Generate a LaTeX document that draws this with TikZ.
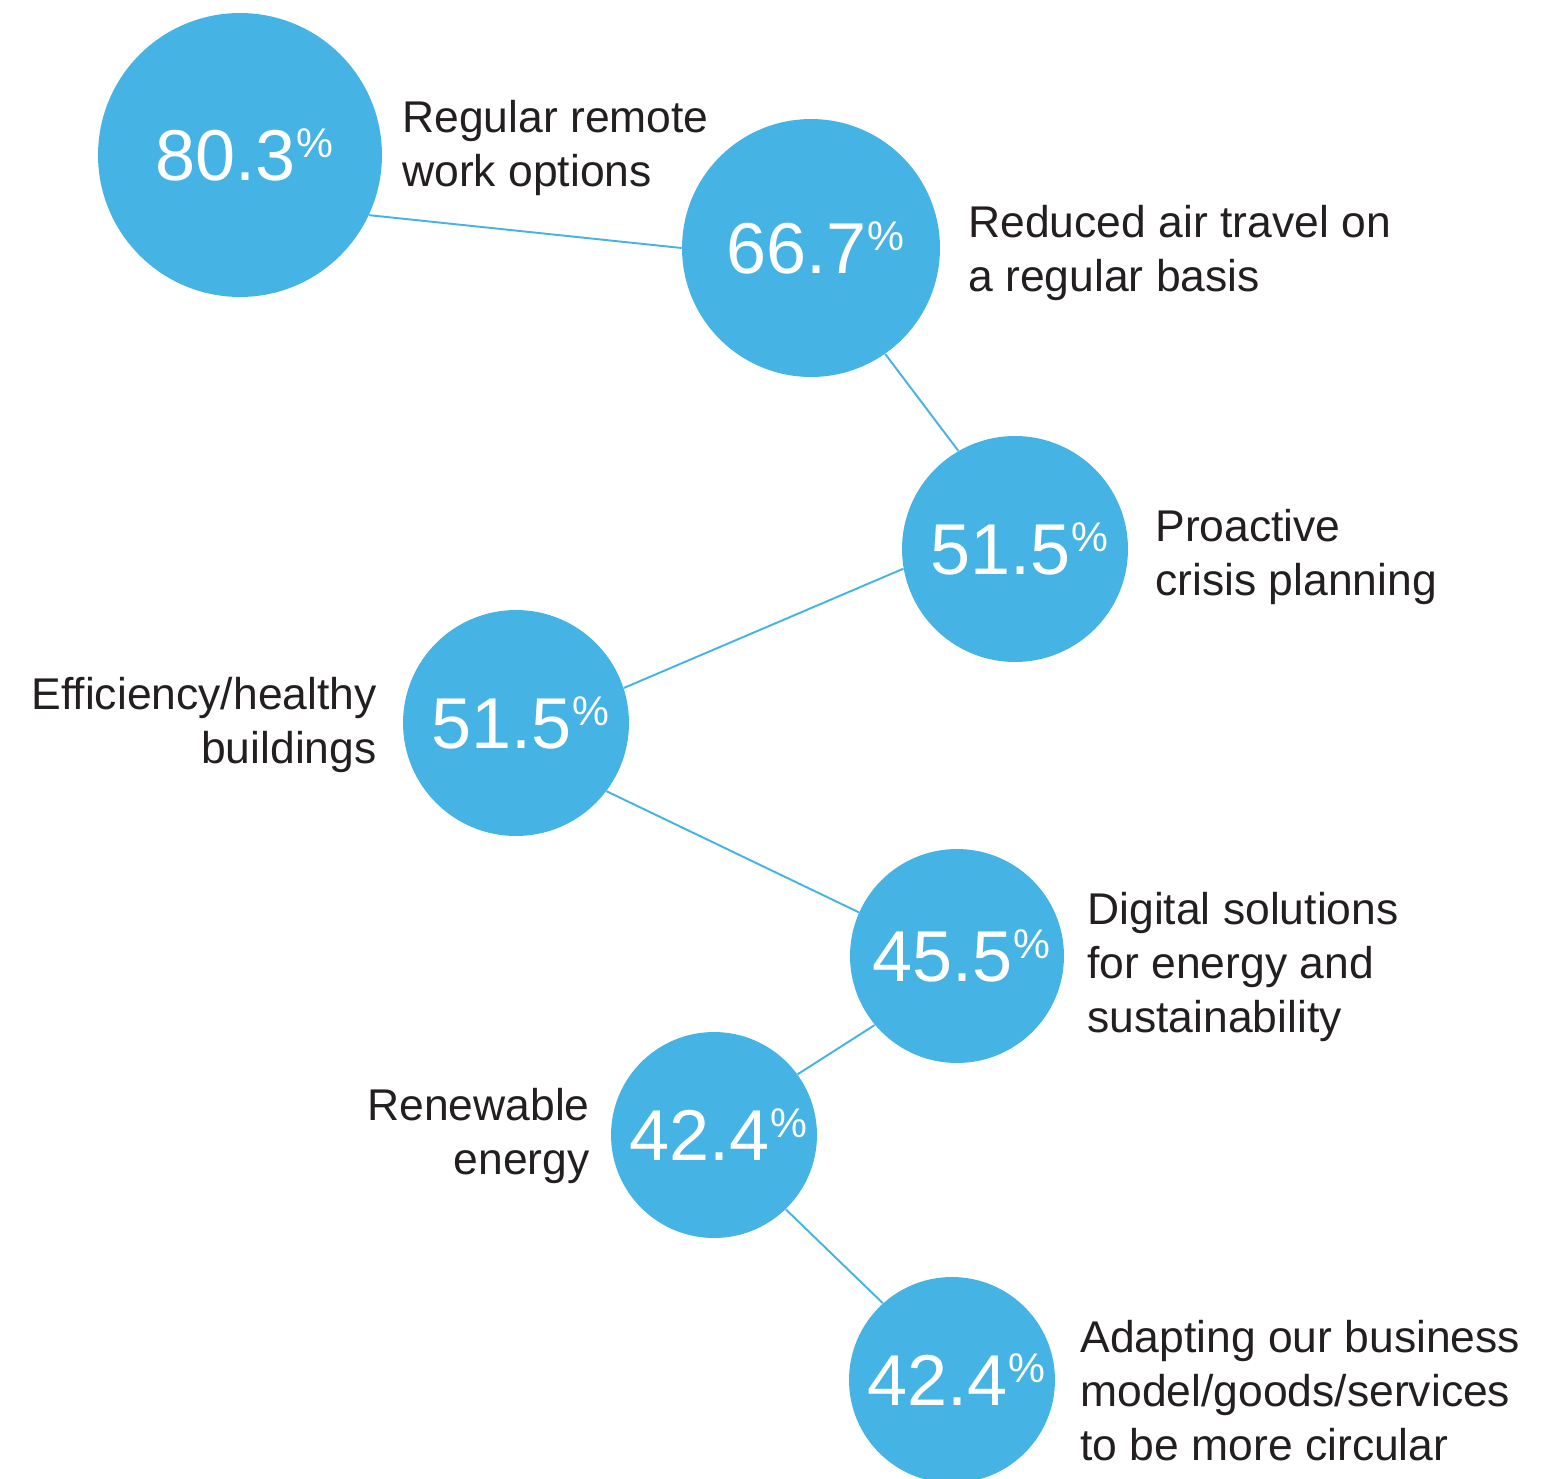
\documentclass[tikz,border=0pt]{standalone}
\usepackage{fontspec}
\setmainfont{Liberation Sans}
\usepackage{xcolor}
\usetikzlibrary{shapes.geometric}
\definecolor{bubbleblue}{HTML}{45B4E5}
\definecolor{labelgray}{HTML}{231F20}
\newcommand{\pct}[1]{\kern5pt#1\raisebox{13pt}{\fontsize{23.6}{24}\selectfont\%}}

\begin{document}
\begin{tikzpicture}[x=0.02cm,y=-0.02cm]
\tikzstyle{bubble} = [circle, fill=bubbleblue, text=white, inner sep=0pt,
font=\fontsize{41}{41}\selectfont]
\tikzstyle{lbl} = [anchor=north west, align=left, inner sep=0pt, text=labelgray,
font=\fontsize{25.3}{30.6}\selectfont]
\tikzstyle{lbl_r} = [lbl, anchor=north east, align=right]
\tikzstyle{link} = [draw=bubbleblue, line width=1.1pt];
\useasboundingbox (0,0) rectangle (1542,1478);
% circles
\node [bubble, minimum size=5.68cm] (remote) at (240,155) {\pct{80.3}};
\node [bubble, minimum size=5.16cm] (air) at (811,248) {\pct{66.7}};
\node [bubble, minimum size=4.52cm] (crisis) at (1015,549) {\pct{51.5}};
\node [bubble, minimum size=4.52cm] (buildings) at (516,723) {\pct{51.5}};
\node [bubble, minimum size=4.28cm] (digital) at (957,956) {\pct{45.5}};
\node [bubble, minimum size=4.12cm] (renew) at (714,1135) {\pct{42.4}};
\node [bubble, minimum size=4.12cm] (circular) at (952,1380) {\pct{42.4}};
% labels
\node [lbl] (remote_txt) at (402,100) {Regular remote\\work options};
\node [lbl] (air_txt) at (968,205) {Reduced air travel on\\a regular basis};
\node [lbl] (crisis_txt) at (1155,509) {Proactive\\crisis planning};
\node [lbl_r] (buildings_txt) at (377,677) {Efficiency/healthy\\buildings};
\node [lbl] (digital_txt) at (1087,892) {Digital solutions\\for energy and\\sustainability};
\node [lbl_r] (renew_txt) at (590,1088) {Renewable\\energy};
\node [lbl] (circular_txt) at (1080,1320) {Adapting our business\\model/goods/services\\to be more circular};
\tikzstyle{every path}=[link]
\path (remote.-25) -- (air.180);
\path (air.-55) -- (crisis.120);
\path (crisis.190) -- (buildings.18);
\path (buildings.-37.6) -- (digital.156);
\path (digital.-140) -- (renew.36.8);
\path (renew.-46.6) -- (circular.132.6);
\end{tikzpicture}
\end{document}
